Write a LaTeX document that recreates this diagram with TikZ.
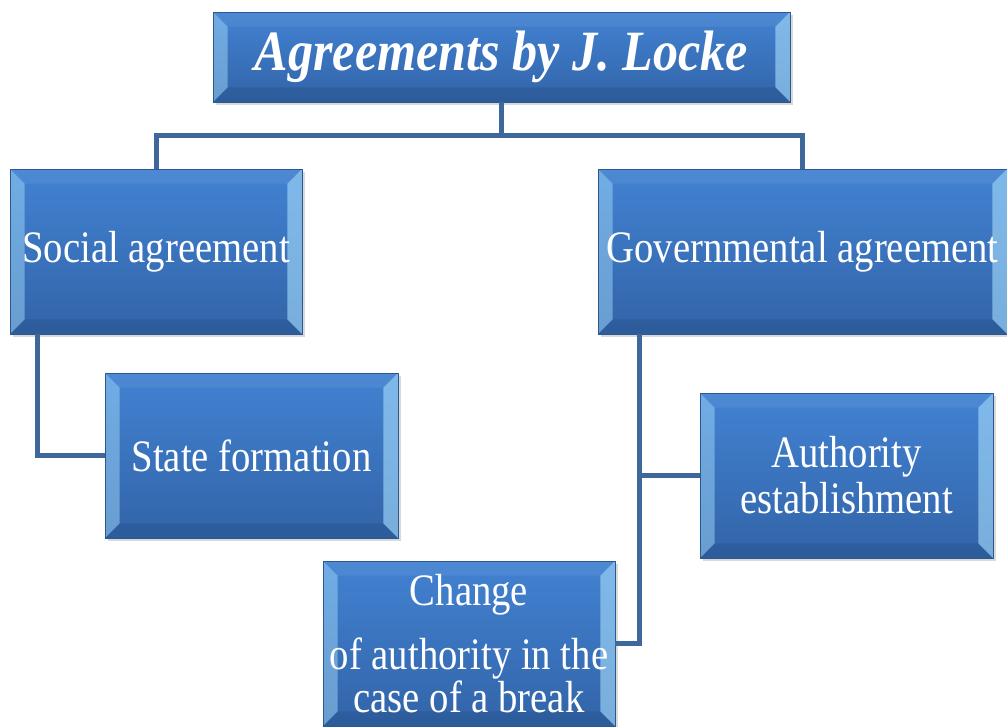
\documentclass[tikz,border=0pt]{standalone}
\usepackage{fontspec}
\setmainfont{Liberation Serif}
\newfontfamily\boxfont[FakeStretch=0.86]{Liberation Serif}
\newfontfamily\titlefont[FakeStretch=0.88]{Liberation Serif}
\usepackage{tikz}
\usetikzlibrary{shadows}

\definecolor{boxtop}{RGB}{66,130,210}
\definecolor{boxbot}{RGB}{50,100,168}
\definecolor{boxedge}{RGB}{44,88,142}
\definecolor{bevlight}{RGB}{160,215,248}
\definecolor{bevdark}{RGB}{36,78,130}
\definecolor{linkblue}{RGB}{62,104,156}

\begin{document}
\begin{tikzpicture}[x=0.75pt, y=-0.75pt,
        box/.style={rectangle, draw=boxedge, line width=0.6pt, top color=boxtop, bottom color=boxbot, text=white, align=center, inner sep=2pt,
          font=\boxfont\fontsize{33.75}{33}\selectfont,
          drop shadow={opacity=0.3, shadow xshift=2pt, shadow yshift=-2.5pt},
          path picture={
            \fill[bevlight, opacity=0.5] (path picture bounding box.north west) -- ([shift={(11pt,-11pt)}]path picture bounding box.north west) -- ([shift={(11pt,11pt)}]path picture bounding box.south west) -- (path picture bounding box.south west) -- cycle;
            \fill[bevlight, opacity=0.65] (path picture bounding box.north east) -- ([shift={(-11pt,-11pt)}]path picture bounding box.north east) -- ([shift={(-11pt,11pt)}]path picture bounding box.south east) -- (path picture bounding box.south east) -- cycle;
            \fill[white, opacity=0.06] (path picture bounding box.north west) -- ([shift={(11pt,-11pt)}]path picture bounding box.north west) -- ([shift={(-11pt,-11pt)}]path picture bounding box.north east) -- (path picture bounding box.north east) -- cycle;
            \fill[bevdark, opacity=0.35] (path picture bounding box.south west) -- ([shift={(11pt,11pt)}]path picture bounding box.south west) -- ([shift={(-11pt,11pt)}]path picture bounding box.south east) -- (path picture bounding box.south east) -- cycle;
          }},
        link/.style={draw=linkblue, line width=3.75pt}
      ]
        \useasboundingbox (0,0) rectangle (1007,726);

        \node[box, minimum width=432.75pt, minimum height=67.5pt, font=\titlefont\bfseries\itshape\fontsize{42.75}{45}\selectfont] (title) at (501.5,57) {Agreements by J. Locke};
        \node[box, minimum width=219pt,    minimum height=123.75pt] (social) at (156,251.5)   {Social agreement};
        \node[box, minimum width=306.75pt, minimum height=123.75pt] (gov)    at (802.5,251.5) {Governmental agreement};
        \node[box, minimum width=219.75pt, minimum height=123.75pt] (state)  at (251.5,455.5) {State formation};
        \node[box, minimum width=219.75pt, minimum height=123.75pt, font=\boxfont\fontsize{33.75}{34.5}\selectfont] (auth) at (846.5,475.5) {Authority\\establishment};
        \node[box, minimum width=219pt,    minimum height=123.75pt, font=\boxfont\fontsize{33.75}{32}\selectfont] (change) at (469,643.5) {Change\\[16pt]of authority in the\\case of a break};

        \draw[link]  (title.south) -- ++(0,33) coordinate (fork);
        \draw[link]  (fork) -| (social.north);
        \draw[link]  (fork) -| (gov.north);
        \draw[link]  ([xshift=21pt]social.south west) |- (state.west);
        \draw[link]  ([xshift=31.5pt]gov.south west) |- (auth.west);
        \draw[link]  ([xshift=31.5pt]gov.south west) |- (change.east);
      \end{tikzpicture}
\end{document}
